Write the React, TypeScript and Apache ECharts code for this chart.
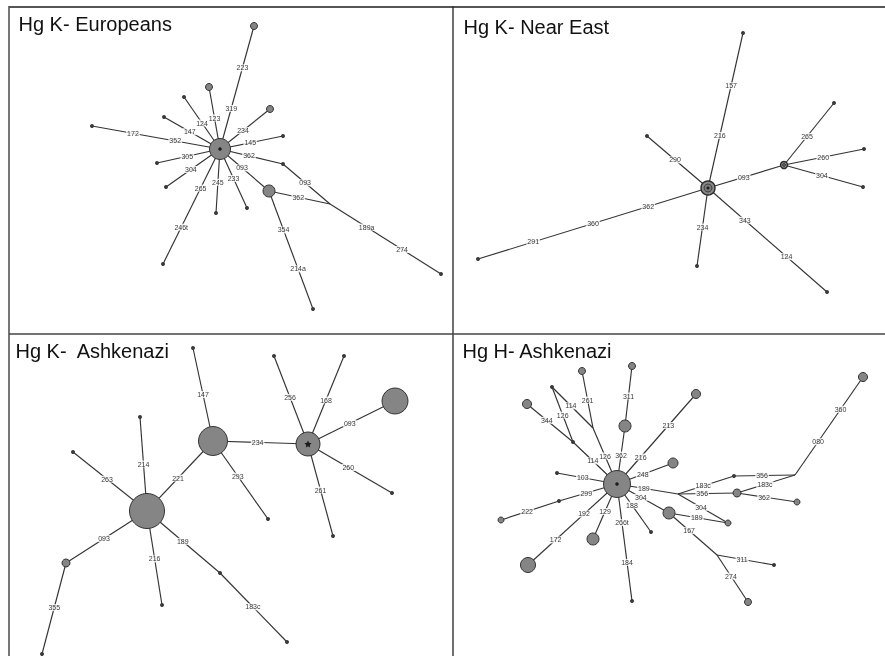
import React, { useEffect, useRef } from "react";
import * as echarts from "echarts";

// node: [id, x, y, size, kind]
type Node = [string, number, number, number, string];
// link: [source, target, [[t, label], ...]]
type Link = [string, string, [number, string][]];

const titles: [string, number, number][] = [
  ["Hg K- Europeans", 18.5, 23.5],
  ["Hg K- Near East", 463.5, 27.3],
  ["Hg K-\u00a0 Ashkenazi", 15.5, 351],
  ["Hg H- Ashkenazi", 462.5, 351],
];

const p1Nodes: Node[] = [
  ["c", 220, 149, 21, "hub"],
  ["a223", 254, 26, 7, "gray"],
  ["a123", 209, 87, 7, "gray"],
  ["a124", 184, 97, 4, "dot"],
  ["a147", 164, 117, 4, "dot"],
  ["a172", 92, 126, 4, "dot"],
  ["a234", 270, 109, 7, "gray"],
  ["a145", 283, 136, 4, "dot"],
  ["a362", 283, 164, 4, "dot"],
  ["j", 330, 204, 0, "junc"],
  ["a274", 441, 274, 4, "dot"],
  ["g", 269, 191, 12, "gray"],
  ["a214", 313, 309, 4, "dot"],
  ["a305", 157, 163, 4, "dot"],
  ["a304", 166, 187, 4, "dot"],
  ["a246", 163, 264, 4, "dot"],
  ["a245", 216, 213, 4, "dot"],
  ["a233", 247, 208, 4, "dot"],
];
const p1Links: Link[] = [
  ["c", "a223", [[0.33, "319"], [0.66, "223"]]],
  ["c", "a123", [[0.5, "123"]]],
  ["c", "a124", [[0.5, "124"]]],
  ["c", "a147", [[0.54, "147"]]],
  ["c", "a172", [[0.35, "352"], [0.68, "172"]]],
  ["c", "a234", [[0.46, "234"]]],
  ["c", "a145", [[0.48, "145"]]],
  ["c", "a362", [[0.46, "362"]]],
  ["a362", "j", [[0.47, "093"]]],
  ["c", "g", [[0.45, "093"]]],
  ["g", "j", [[0.48, "362"]]],
  ["j", "a274", [[0.33, "189a"], [0.65, "274"]]],
  ["g", "a214", [[0.33, "354"], [0.66, "214a"]]],
  ["c", "a305", [[0.52, "305"]]],
  ["c", "a304", [[0.54, "304"]]],
  ["c", "a246", [[0.34, "265"], [0.68, "246t"]]],
  ["c", "a245", [[0.52, "245"]]],
  ["c", "a233", [[0.5, "233"]]],
];

const p2Nodes: Node[] = [
  ["c", 708, 188, 14, "ring"],
  ["b157", 743, 33, 4, "dot"],
  ["b290", 647, 136, 4, "dot"],
  ["g", 784, 165, 7, "ring"],
  ["b265", 834, 103, 4, "dot"],
  ["b260", 864, 149, 4, "dot"],
  ["b304", 863, 187, 4, "dot"],
  ["b291", 478, 259, 4, "dot"],
  ["b234", 697, 266, 4, "dot"],
  ["b124", 827, 292, 4, "dot"],
];
const p2Links: Link[] = [
  ["c", "b157", [[0.34, "216"], [0.66, "157"]]],
  ["c", "b290", [[0.54, "290"]]],
  ["c", "g", [[0.47, "093"]]],
  ["g", "b265", [[0.46, "265"]]],
  ["g", "b260", [[0.49, "260"]]],
  ["g", "b304", [[0.48, "304"]]],
  ["c", "b291", [[0.26, "362"], [0.5, "360"], [0.76, "291"]]],
  ["c", "b234", [[0.5, "234"]]],
  ["c", "b124", [[0.31, "343"], [0.66, "124"]]],
];

const p3Nodes: Node[] = [
  ["A", 147, 511, 35, "gray"],
  ["B", 213, 441, 29, "gray"],
  ["C", 308, 444, 24, "hub"],
  ["D", 395, 401, 26, "gray"],
  ["E", 66, 563, 8, "gray"],
  ["c355", 42, 654, 4, "dot"],
  ["c263", 73, 452, 4, "dot"],
  ["c214", 140, 417, 4, "dot"],
  ["c216", 162, 605, 4, "dot"],
  ["c189", 220, 573, 4, "dot"],
  ["c183", 287, 642, 4, "dot"],
  ["c147", 193, 348, 4, "dot"],
  ["c293", 268, 519, 4, "dot"],
  ["c256", 274, 356, 4, "dot"],
  ["c168", 344, 356, 4, "dot"],
  ["c260", 392, 493, 4, "dot"],
  ["c261", 333, 536, 4, "dot"],
];
const p3Links: Link[] = [
  ["A", "E", [[0.53, "093"]]],
  ["E", "c355", [[0.49, "355"]]],
  ["A", "c263", [[0.54, "263"]]],
  ["A", "c214", [[0.5, "214"]]],
  ["A", "c216", [[0.51, "216"]]],
  ["A", "c189", [[0.49, "189"]]],
  ["c189", "c183", [[0.49, "183c"]]],
  ["A", "B", [[0.47, "221"]]],
  ["B", "c147", [[0.5, "147"]]],
  ["B", "c293", [[0.45, "293"]]],
  ["B", "C", [[0.47, "234"]]],
  ["C", "c256", [[0.53, "256"]]],
  ["C", "c168", [[0.5, "168"]]],
  ["C", "D", [[0.48, "093"]]],
  ["C", "c260", [[0.48, "260"]]],
  ["C", "c261", [[0.5, "261"]]],
];

const p4Nodes: Node[] = [
  ["c", 617, 484, 27, "hub"],
  ["J1", 593, 428, 0, "junc"],
  ["t261", 582, 371, 7, "gray"],
  ["D1", 552, 387, 4, "dot"],
  ["D2", 573, 442, 4, "dot"],
  ["G1", 527, 404, 9, "gray"],
  ["G311", 625, 426, 12, "gray"],
  ["t311", 632, 366, 7, "gray"],
  ["t213", 696, 394, 9, "gray"],
  ["t248", 673, 463, 10, "gray"],
  ["t103", 557, 473, 4, "dot"],
  ["D3", 559, 501, 4, "dot"],
  ["t222", 501, 520, 6, "gray"],
  ["t172", 528, 565, 15, "gray"],
  ["t129", 593, 539, 12, "gray"],
  ["t184", 632, 601, 4, "dot"],
  ["t188", 651, 532, 4, "dot"],
  ["G2", 669, 513, 12, "gray"],
  ["J2", 678, 494, 0, "junc"],
  ["D4", 734, 476, 4, "dot"],
  ["J3", 795, 475, 0, "junc"],
  ["G3", 737, 493, 8, "gray"],
  ["t362", 797, 502, 6, "gray"],
  ["G4", 728, 523, 6, "gray"],
  ["J4", 717, 555, 0, "junc"],
  ["t311b", 774, 565, 4, "dot"],
  ["t274", 748, 602, 7, "gray"],
  ["t360", 863, 377, 9, "gray"],
];
const p4Links: Link[] = [
  ["c", "J1", [[0.5, "126"]]],
  ["J1", "t261", [[0.49, "261"]]],
  ["J1", "D1", [[0.54, "114"]]],
  ["D1", "D2", [[0.51, "126"]]],
  ["D2", "c", [[0.45, "114"]]],
  ["D2", "G1", [[0.57, "344"]]],
  ["c", "G311", [[0.5, "362"]]],
  ["G311", "t311", [[0.5, "311"]]],
  ["c", "t213", [[0.3, "216"], [0.65, "213"]]],
  ["c", "t248", [[0.46, "248"]]],
  ["c", "t103", [[0.57, "103"]]],
  ["c", "D3", [[0.53, "299"]]],
  ["D3", "t222", [[0.55, "222"]]],
  ["c", "t172", [[0.37, "192"], [0.69, "172"]]],
  ["c", "t129", [[0.5, "129"]]],
  ["c", "t184", [[0.33, "266t"], [0.67, "184"]]],
  ["c", "t188", [[0.44, "188"]]],
  ["c", "G2", [[0.46, "304"]]],
  ["c", "J2", [[0.44, "189"]]],
  ["J2", "D4", [[0.45, "183c"]]],
  ["D4", "J3", [[0.46, "356"]]],
  ["J2", "G3", [[0.41, "356"]]],
  ["G3", "J3", [[0.48, "183c"]]],
  ["G3", "t362", [[0.45, "362"]]],
  ["J2", "G4", [[0.46, "304"]]],
  ["G2", "G4", [[0.47, "189"]]],
  ["G2", "J4", [[0.42, "167"]]],
  ["J4", "t311b", [[0.44, "311"]]],
  ["J4", "t274", [[0.45, "274"]]],
  ["J3", "t360", [[0.34, "080"], [0.67, "360"]]],
];

// centre markers: [panel, nodeId, marker]
const centreMarks: [number, string, string][] = [
  [0, "c", "dot"],
  [1, "c", "ringdot"],
  [1, "g", "smallring"],
  [2, "C", "star"],
  [3, "c", "dot"],
];

const panels: [Node[], Link[]][] = [
  [p1Nodes, p1Links],
  [p2Nodes, p2Links],
  [p3Nodes, p3Links],
  [p4Nodes, p4Links],
];

const STAR =
  "path://M0,-1L0.29,-0.4L0.95,-0.31L0.48,0.15L0.59,0.81L0,0.5L-0.59,0.81L-0.48,0.15L-0.95,-0.31L-0.29,-0.4Z";

function nodeStyle(kind: string) {
  if (kind === "dot") return { color: "#3a3a3a", borderWidth: 0 };
  if (kind === "junc") return { color: "#444", borderWidth: 0, opacity: 0 };
  if (kind === "ring") return { color: "#8a8a8a", borderColor: "#2a2a2a", borderWidth: 1.4 };
  return { color: "#858585", borderColor: "#333", borderWidth: 1 };
}

const LABEL_STYLE = {
  show: true,
  position: "inside",
  fontSize: 7,
  fontFamily: "Liberation Sans, Arial, sans-serif",
  color: "#000",
  backgroundColor: "#fff",
  padding: [0, 1],
};

export default function App() {
  const ref = useRef<HTMLDivElement>(null);
  useEffect(() => {
    document.body.style.margin = "0";
    if (!ref.current) return;
    const chart = echarts.init(ref.current, undefined, { renderer: "svg" });
    const series: any[] = [];
    const labelData: any[] = [];
    panels.forEach(([nodes, links]) => {
      const pos: Record<string, [number, number]> = {};
      nodes.forEach((n) => (pos[n[0]] = [n[1], n[2]]));
      series.push({
        type: "graph",
        layout: "none",
        coordinateSystem: "cartesian2d",
        xAxisIndex: 0,
        yAxisIndex: 0,
        silent: true,
        z: 2,
        data: nodes.map((n) => ({
          name: n[0],
          value: [n[1], n[2]],
          symbol: "circle",
          symbolSize: n[3],
          itemStyle: nodeStyle(n[4]),
        })),
        links: links.map((l) => ({ source: l[0], target: l[1] })),
        lineStyle: { color: "#333", width: 1.15, opacity: 1, curveness: 0 },
        label: { show: false },
        emphasis: { disabled: true },
      });
      links.forEach((l) => {
        const a = pos[l[0]];
        const b = pos[l[1]];
        l[2].forEach(([t, txt]) => {
          labelData.push({
            name: txt,
            value: [a[0] + t * (b[0] - a[0]), a[1] + t * (b[1] - a[1])],
            label: { ...LABEL_STYLE, formatter: txt },
          });
        });
      });
    });
    const markData: any[] = [];
    centreMarks.forEach(([pi, id, mk]) => {
      const n = panels[pi][0].find((x) => x[0] === id)!;
      if (mk === "dot") {
        markData.push({ value: [n[1], n[2]], symbol: "circle", symbolSize: 3.5, itemStyle: { color: "#000" } });
      } else if (mk === "star") {
        markData.push({ value: [n[1], n[2]], symbol: STAR, symbolSize: 7, itemStyle: { color: "#000" } });
      } else if (mk === "ringdot") {
        markData.push({ value: [n[1], n[2]], symbol: "circle", symbolSize: 8, itemStyle: { color: "#777", borderColor: "#2a2a2a", borderWidth: 1 } });
        markData.push({ value: [n[1], n[2]], symbol: "circle", symbolSize: 3, itemStyle: { color: "#000" } });
      } else if (mk === "smallring") {
        markData.push({ value: [n[1], n[2]], symbol: "circle", symbolSize: 3, itemStyle: { color: "#555", borderColor: "#222", borderWidth: 0.8 } });
      }
    });
    series.push({
      type: "scatter",
      silent: true,
      z: 4,
      data: markData,
    });
    series.push({
      type: "scatter",
      silent: true,
      z: 5,
      symbolSize: 0,
      colorBy: "series",
      itemStyle: { color: "#000" },
      data: labelData,
      label: LABEL_STYLE,
    });

    const graphics: any[] = [
      { type: "line", shape: { x1: 9, y1: 7, x2: 885, y2: 7 }, style: { stroke: "#555", lineWidth: 2 } },
      { type: "line", shape: { x1: 9, y1: 6, x2: 9, y2: 656 }, style: { stroke: "#555", lineWidth: 1.6 } },
      { type: "line", shape: { x1: 453, y1: 6, x2: 453, y2: 656 }, style: { stroke: "#333", lineWidth: 1.4 } },
      { type: "line", shape: { x1: 9, y1: 334, x2: 885, y2: 334 }, style: { stroke: "#444", lineWidth: 1.4 } },
    ];
    titles.forEach(([txt, x, y]) => {
      graphics.push({
        type: "text",
        x,
        y,
        style: {
          text: txt,
          font: '20px "Liberation Sans", Arial, sans-serif',
          fill: "#111",
          align: "left",
          verticalAlign: "middle",
        },
      });
    });

    chart.setOption({
      animation: false,
      backgroundColor: "#fff",
      grid: { left: 0, right: 0, top: 0, bottom: 0 },
      xAxis: { type: "value", min: 0, max: 885, show: false },
      yAxis: { type: "value", min: 0, max: 656, inverse: true, show: false },
      series,
      graphic: graphics,
    });
    return () => chart.dispose();
  }, []);
  return <div ref={ref} style={{ width: 885, height: 656, filter: "grayscale(1)" }} />;
}
